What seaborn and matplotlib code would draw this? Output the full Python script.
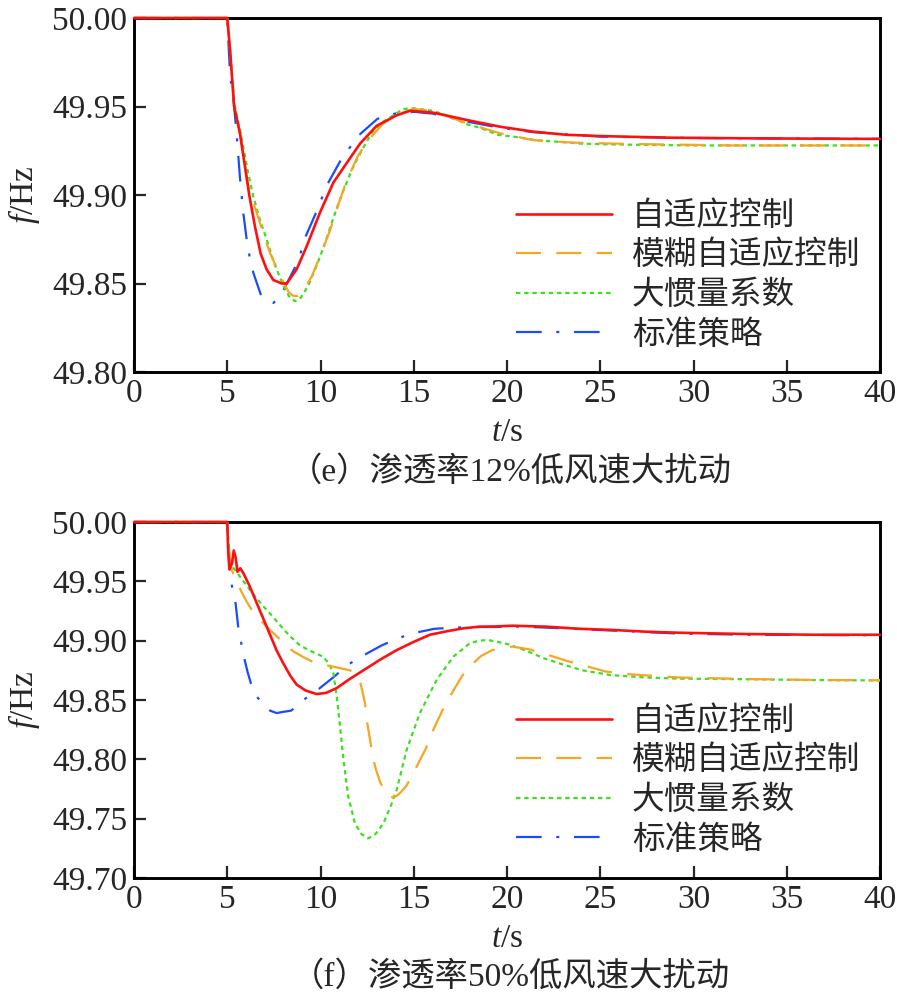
import numpy as np
import pandas as pd
import matplotlib
matplotlib.use("Agg")
import matplotlib.pyplot as plt
import seaborn as sns

# ---------------- data: (e) 12% penetration ----------------
e_red_t = [0, 5.0, 5.15, 5.37, 5.68, 5.95, 6.18, 6.49, 6.79, 7.11, 7.47, 7.92, 8.19, 8.72, 9.26, 9.97,
           10.69, 11.4, 12.12, 13.0, 14.08, 14.8, 16.05, 17.84, 19.62, 21.4, 23.2, 25, 28.6, 33, 37.1, 40]
e_red_f = [50.000, 50.000, 49.982, 49.950, 49.935, 49.916, 49.900, 49.882, 49.867, 49.858, 49.852, 49.850,
           49.850, 49.858, 49.871, 49.890, 49.907, 49.918, 49.929, 49.939, 49.945, 49.9476, 49.9465, 49.9424,
           49.9386, 49.9358, 49.934, 49.9333, 49.9324, 49.932, 49.9318, 49.9317]

e_orange_t = [0, 5.0, 5.15, 5.37, 5.68, 5.95, 6.18, 6.58, 7.0, 7.3, 7.65, 8.0, 8.3, 8.54, 8.8, 9.1, 9.53,
              10.0, 10.51, 11.0, 11.4, 12.0, 12.48, 13.37, 14.08, 15.0, 16.05, 17.84, 19.62, 21.4, 23.56,
              26.8, 32.1, 40]
e_orange_f = [50.000, 50.000, 49.982, 49.950, 49.935, 49.917, 49.902, 49.890, 49.876, 49.867, 49.859,
              49.851, 49.845, 49.843, 49.843, 49.846, 49.854, 49.866, 49.880, 49.896, 49.908, 49.922,
              49.930, 49.9405, 49.9455, 49.9486, 49.9475, 49.9405, 49.9349, 49.931, 49.9296, 49.9288,
              49.928, 49.928]

e_green_t = [0, 5.0, 5.15, 5.37, 5.68, 5.95, 6.13, 6.4, 6.75, 7.11, 7.5, 8.0, 8.3, 8.63, 8.95, 9.35, 9.75,
             10.15, 10.5, 10.87, 11.25, 11.67, 12.2, 12.74, 13.3, 13.9, 14.44, 15.0, 16.05, 17.0, 17.84,
             18.55, 19.5, 20.6, 21.5, 22.8, 24, 26, 30, 35, 40]
e_green_f = [50.000, 50.000, 49.982, 49.952, 49.937, 49.922, 49.912, 49.899, 49.886, 49.875, 49.862,
             49.849, 49.843, 49.840, 49.842, 49.849, 49.859, 49.870, 49.881, 49.8925, 49.903, 49.914,
             49.925, 49.935, 49.941, 49.945, 49.9486, 49.949, 49.9475, 49.944, 49.940, 49.938, 49.934,
             49.9326, 49.931, 49.930, 49.929, 49.9285, 49.928, 49.928, 49.928]

e_blue_t = [0, 5.0, 5.15, 5.35, 5.5, 5.68, 5.86, 6.04, 6.2, 6.4, 6.79, 7.1, 7.47, 7.8, 8.0, 8.63, 8.93,
            9.2, 9.76, 10.1, 10.42, 11.05, 11.72, 12.08, 13.05, 14.0, 15.0, 16.0, 17.84, 19.62, 21.4,
            25, 30, 40]
e_blue_f = [50.000, 50.000, 49.968, 49.952, 49.935, 49.910, 49.890, 49.875, 49.865, 49.856, 49.844,
            49.840, 49.839, 49.842, 49.846, 49.859, 49.867, 49.8765, 49.890, 49.899, 49.907, 49.919,
            49.929, 49.934, 49.943, 49.946, 49.947, 49.946, 49.9415, 49.938, 49.9355, 49.933, 49.9322,
            49.9317]

# ---------------- data: (f) 50% penetration ----------------
f_red_t = [0, 5.0, 5.05, 5.12, 5.25, 5.35, 5.45, 5.55, 5.7, 5.86, 6.2, 6.6, 7.11, 7.64, 8.0, 8.4, 8.72,
           9.2, 9.8, 10.3, 10.87, 11.5, 12.3, 13.2, 14.08, 15.0, 15.87, 16.8, 17.66, 18.52, 19.4, 20.3,
           22.1, 23.9, 25.7, 27.4, 29.2, 32.8, 36.4, 40]
f_red_f = [50.000, 50.000, 49.975, 49.960, 49.965, 49.976, 49.970, 49.958, 49.961, 49.957, 49.946,
           49.931, 49.912, 49.892, 49.881, 49.870, 49.863, 49.858, 49.855, 49.856, 49.860, 49.867,
           49.875, 49.884, 49.892, 49.899, 49.905, 49.908, 49.9104, 49.9118, 49.912, 49.9126, 49.9118,
           49.910, 49.909, 49.9076, 49.9067, 49.9056, 49.905, 49.905]

f_orange_t = [0, 5.0, 5.1, 5.24, 5.5, 5.77, 6.0, 6.31, 6.8, 7.29, 7.9, 8.54, 9.1, 9.61, 10.05, 10.5,
              11.0, 11.58, 11.9, 12.12, 12.25, 12.39, 12.48, 12.69, 12.83, 13.0, 13.22, 13.45, 13.63,
              13.85, 14.08, 14.35, 14.62, 15.06, 15.65, 15.96, 16.5, 16.94, 17.6, 18.13, 18.6, 19.2,
              19.8, 20.3, 21.2, 22.1, 23.2, 24.2, 25.3, 26.55, 29.2, 32.8, 36.4, 40]
f_orange_f = [50.000, 50.000, 49.975, 49.9596, 49.950, 49.941, 49.934, 49.926, 49.917, 49.909, 49.900,
              49.891, 49.886, 49.882, 49.880, 49.8787, 49.877, 49.875, 49.872, 49.866, 49.857, 49.847,
              49.833, 49.8135, 49.800, 49.790, 49.780, 49.773, 49.769, 49.768, 49.769, 49.773, 49.778,
              49.791, 49.809, 49.822, 49.840, 49.853, 49.8705, 49.880, 49.887, 49.892, 49.894, 49.895,
              49.8927, 49.8885, 49.883, 49.8787, 49.874, 49.8717, 49.869, 49.8677, 49.8669, 49.8666]

f_green_t = [0, 5.0, 5.1, 5.3, 5.68, 6.3, 6.93, 7.4, 7.83, 8.35, 8.9, 9.5, 10.15, 10.47, 10.69, 10.87,
             11.05, 11.23, 11.49, 11.85, 12.2, 12.56, 12.95, 13.37, 13.75, 14.08, 14.62, 15.33, 16.23,
             17.12, 18.02, 18.52, 18.97, 19.5, 20.05, 21.02, 22.0, 22.98, 24.05, 25.57, 27.4, 29.2,
             32.8, 36.4, 40]
f_green_f = [50.000, 50.000, 49.975, 49.962, 49.954, 49.941, 49.929, 49.921, 49.913, 49.904, 49.896,
             49.891, 49.8865, 49.880, 49.8725, 49.853, 49.8275, 49.800, 49.7685, 49.746, 49.737,
             49.7334, 49.737, 49.746, 49.760, 49.774, 49.808, 49.839, 49.867, 49.8865, 49.898, 49.900,
             49.9006, 49.899, 49.897, 49.8916, 49.885, 49.880, 49.875, 49.871, 49.869, 49.868, 49.8675,
             49.8668, 49.8665]

f_blue_t = [0, 5.0, 5.1, 5.24, 5.45, 5.6, 5.75, 5.93, 6.1, 6.27, 6.63, 7.0, 7.3, 7.65, 8.0, 8.42, 8.75,
            9.08, 9.73, 10.2, 10.76, 11.4, 12.12, 12.7, 13.28, 14.08, 14.87, 15.5, 16.1, 17.2, 18.1,
            19.4, 20.3, 22.1, 25.7, 29.2, 32.8, 36.4, 40]
f_blue_f = [50.000, 50.000, 49.965, 49.947, 49.931, 49.910, 49.898, 49.884, 49.873, 49.864, 49.852,
            49.845, 49.841, 49.839, 49.840, 49.841, 49.845, 49.850, 49.857, 49.863, 49.870, 49.879,
            49.886, 49.891, 49.896, 49.9015, 49.906, 49.908, 49.910, 49.911, 49.9115, 49.9115, 49.912,
            49.911, 49.9085, 49.906, 49.905, 49.9048, 49.9045]

labels = ["自适应控制", "模糊自适应控制", "大惯量系数", "标准策略"]
x_ticks = [0, 5, 10, 15, 20, 25, 30, 35, 40]
e_yticks = [49.80, 49.85, 49.90, 49.95, 50.00]
f_yticks = [49.70, 49.75, 49.80, 49.85, 49.90, 49.95, 50.00]
captions = ["（e）渗透率12%低风速大扰动", "（f）渗透率50%低风速大扰动"]

# ---------------- style ----------------
sns.set_style("ticks")
FAM = ["Liberation Serif", "Noto Sans CJK SC", "DejaVu Sans"]
plt.rcParams["font.family"] = FAM
plt.rcParams["mathtext.fontset"] = "custom"
plt.rcParams["mathtext.rm"] = "Liberation Serif"
plt.rcParams["mathtext.it"] = "Liberation Serif:italic"
plt.rcParams["lines.scale_dashes"] = False

colors = ["#ff1010", "#f5a623", "#3ee01e", "#1a4cff"]
styles = ["-", (0, (18, 11)), (0, (3.2, 2.7)), (0, (18.5, 10.5, 2.2, 10.5))]
widths = [1.9, 1.6, 1.6, 1.6]

fig = plt.figure(figsize=(8.97, 9.92), dpi=100)
W, H = 897, 992
L, R = 134, 880
ax_e = fig.add_axes([L / W, 1 - 372 / H, (R - L) / W, (372 - 18) / H])
ax_f = fig.add_axes([L / W, 1 - 878 / H, (R - L) / W, (878 - 522) / H])

panels = [
    (ax_e, [(e_red_t, e_red_f), (e_orange_t, e_orange_f), (e_green_t, e_green_f), (e_blue_t, e_blue_f)],
     (49.80, 50.00), e_yticks, captions[0], 472),
    (ax_f, [(f_red_t, f_red_f), (f_orange_t, f_orange_f), (f_green_t, f_green_f), (f_blue_t, f_blue_f)],
     (49.70, 50.00), f_yticks, captions[1], 977),
]

for ax, series, ylim, yt, cap, cap_y in panels:
    handles = [None] * 4
    for i in [3, 2, 1, 0]:
        t, f = series[i]
        df = pd.DataFrame({"t": t, "f": f})
        sns.lineplot(data=df, x="t", y="f", ax=ax, color=colors[i], linestyle=styles[i],
                     linewidth=widths[i], estimator=None, sort=False, zorder=3 + (3 - i))
        handles[i] = ax.lines[-1]
        ax.lines[-1].set_clip_on(False)
    ax.set_xlim(0, 40)
    ax.set_ylim(*ylim)
    ax.set_xticks(x_ticks)
    ax.set_xticklabels([str(v) for v in x_ticks])
    ax.set_yticks(yt)
    ax.set_yticklabels([f"{v:.2f}" for v in yt])
    ax.tick_params(direction="in", length=8.5, width=1.6, labelsize=24, top=False, right=False)
    ax.tick_params(axis="x", pad=5)
    ax.tick_params(axis="y", pad=5)
    for sp in ax.spines.values():
        sp.set_linewidth(2.1)
        sp.set_color("black")
    ax.set_xlabel(r"$\mathit{t}$/s", fontsize=24, labelpad=5.5)
    ax.set_ylabel(r"$\mathit{f}$/Hz", fontsize=24, labelpad=7)
    ax.legend(handles=handles, labels=labels, loc="upper left", bbox_to_anchor=(0.512, 0.482),
              frameon=False, prop={"family": FAM, "size": 23.5}, handlelength=2.95,
              handletextpad=0.6, labelspacing=0.27, borderpad=0, borderaxespad=0)
    fig.text(510 / W, 1 - cap_y / H, cap, ha="center", va="center", fontsize=24, family=FAM)

fig.savefig("out.png", dpi=100)
